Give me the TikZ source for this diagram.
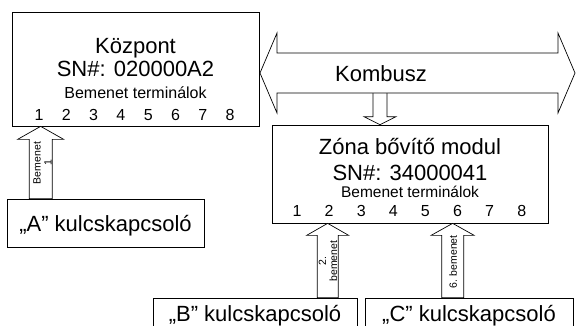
\documentclass[tikz,border=0pt]{standalone}
\usepackage{fontspec}
\setmainfont{Liberation Sans}
\usetikzlibrary{calc}

\begin{document}
\begin{tikzpicture}[x=1pt, y=1pt,
    box/.style={draw, line width=0.7pt, fill=white, inner sep=0pt},
    bigtext/.style={font=\fontsize{22}{24}\selectfont, anchor=base, inner sep=0pt},
    midtext/.style={font=\fontsize{16}{18}\selectfont, anchor=base, inner sep=0pt},
    smalltext/.style={font=\fontsize{10.5}{11}\selectfont, align=center, rotate=90, inner sep=0pt},
    blockline/.style={draw, line width=0.7pt, fill=white, line join=miter}
]
\useasboundingbox (0,0) rectangle (576,325);
\clip (0,0) rectangle (576,325);

% Kozpont (central unit)
\node[box, minimum width=247, minimum height=114] (kp) at (135.5,256) {};
\node[bigtext] (kptitle) at (135.5,271.7) {Központ};
\node[bigtext] (kpsn) at (135.5,249) {SN\#: 020000A2};
\node[midtext] (kpterm) at (135.5,226.5) {Bemenet terminálok};

% Zone expander module
\node[box, minimum width=276, minimum height=98] (zm) at (410,151) {};
\node[bigtext] (zmtitle) at (410,170.5) {Zóna bővítő modul};
\node[bigtext] (zmsn) at (410,145) {SN\#: 34000041};
\node[midtext, font=\fontsize{15.5}{17}\selectfont] (zmterm) at (410,127.8) {Bemenet terminálok};

% Input terminal numbers
\foreach \i in {1,...,8} {
  \node[midtext] (k\i) at ({39+27.3*(\i-1)},204.3) {\i};
  \node[midtext] (z\i) at ({297+32.1*(\i-1)},109) {\i};
}

% Key switches
\node[box, minimum width=197, minimum height=48] (akey) at (105.5,102) {};
\node[bigtext] at (105.5,94) {„A” kulcskapcsoló};
\node[box, minimum width=204, minimum height=32] (bkey) at (255,11) {};
\node[bigtext] at (255,3.3) {„B” kulcskapcsoló};
\node[box, minimum width=208, minimum height=32] (ckey) at (469,11) {};
\node[bigtext] at (469,3.3) {„C” kulcskapcsoló};

% Bus down to the module
\coordinate (busL) at (260,252);
\coordinate (busR) at (575,252);
\coordinate (dnTip) at ($(zm.north)+(-30,0)$);
\coordinate (dnBase) at ($(dnTip |- busL)+(0,-20)$);
\draw[blockline] ($(dnBase)+(-7,0)$) -- ($(dnTip)+(-7,8)$) -- ($(dnTip)+(-16,8)$) -- (dnTip)
  -- ($(dnTip)+(16,8)$) -- ($(dnTip)+(7,8)$) -- ($(dnBase)+(7,0)$);

% Kombusz
\draw[blockline] (busL) -- ($(busL)+(17,40)$) -- ($(busL)+(17,20)$) -- ($(busR)+(-17,20)$)
  -- ($(busR)+(-17,40)$) -- (busR) -- ($(busR)+(-17,-40)$) -- ($(busR)+(-17,-20)$)
  -- ($(busL)+(17,-20)$) -- ($(busL)+(17,-40)$) -- cycle;
\node[bigtext] (bus) at (381,243.3) {Kombusz};

% Inputs from the key switches
\coordinate (aTip) at ($(kp.south west)+(29,0)$);
\coordinate (aBase) at (aTip |- akey.north);
\draw[blockline] ($(aBase)+(-11.5,0)$) -- ($(aTip)+(-11.5,-13)$) -- ($(aTip)+(-23,-13)$) -- (aTip)
  -- ($(aTip)+(23,-13)$) -- ($(aTip)+(11.5,-13)$) -- ($(aBase)+(11.5,0)$) -- cycle;
\node[smalltext] (alabel) at (42.5,162) {Bemenet\\1};

\coordinate (bTip) at ($(zm.south west)+(56,0)$);
\coordinate (bBase) at (bTip |- bkey.north);
\draw[blockline] ($(bBase)+(-10.5,0)$) -- ($(bTip)+(-10.5,-12)$) -- ($(bTip)+(-21,-12)$) -- (bTip)
  -- ($(bTip)+(21,-12)$) -- ($(bTip)+(10.5,-12)$) -- ($(bBase)+(10.5,0)$) -- cycle;
\node[smalltext] (blabel) at (328,64) {2.\\bemenet};

\coordinate (cTip) at ($(zm.south west)+(181,0)$);
\coordinate (cBase) at (cTip |- ckey.north);
\draw[blockline] ($(cBase)+(-11,0)$) -- ($(cTip)+(-11,-12)$) -- ($(cTip)+(-21.5,-12)$) -- (cTip)
  -- ($(cTip)+(21.5,-12)$) -- ($(cTip)+(11,-12)$) -- ($(cBase)+(11,0)$) -- cycle;
\node[smalltext] (clabel) at (453,63) {6. bemenet};

\end{tikzpicture}
\end{document}
